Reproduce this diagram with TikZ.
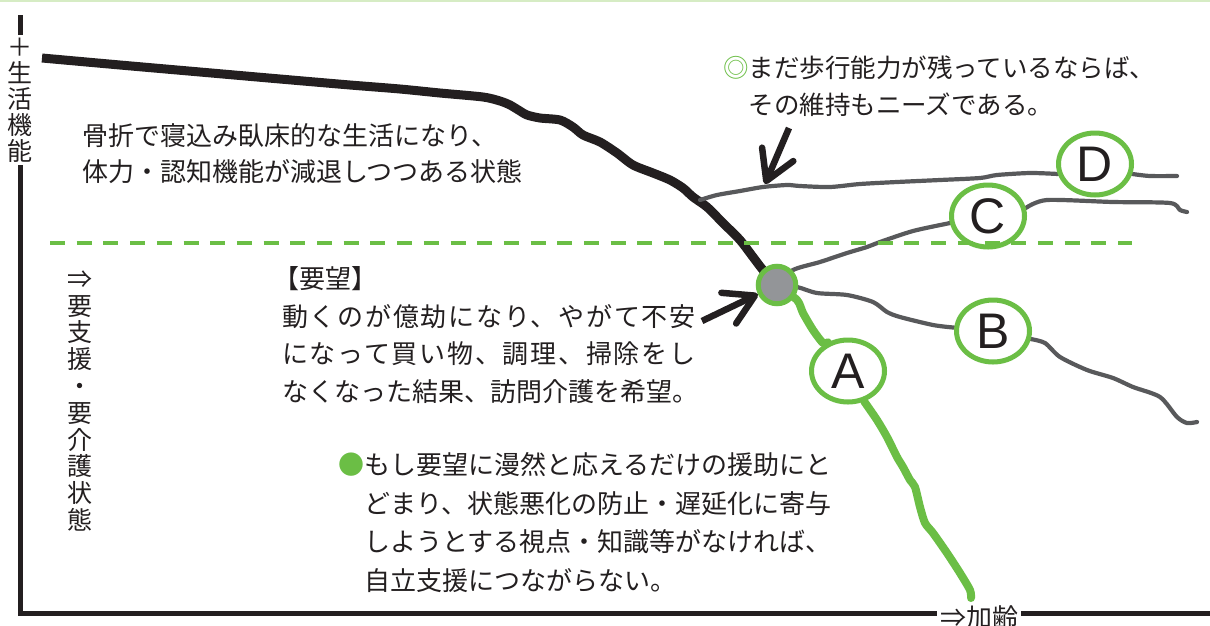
\documentclass[tikz,border=0pt]{standalone}
\usepackage{fontspec}
\setmainfont{Noto Sans CJK JP}
\newfontfamily\latsans{Liberation Sans}
\usetikzlibrary{shapes.geometric,arrows.meta}
\definecolor{grn}{HTML}{6BBE45}
\definecolor{lgrn}{HTML}{D6ECC4}
\definecolor{ink}{HTML}{231F20}
\definecolor{gline}{HTML}{58595B}
\definecolor{gfill}{HTML}{939598}
\pgfdeclarelayer{bg}
\pgfdeclarelayer{paper}
\pgfsetlayers{paper,bg,main}
\begin{document}
\begin{tikzpicture}[x=1pt,y=-1pt,
  lbl/.style={ellipse,draw=grn,line width=5pt,fill=white,minimum width=73pt,minimum height=62pt,inner sep=0pt,font=\latsans\fontsize{50}{50}\selectfont,text=ink},
  hub/.style={circle,draw=grn,line width=5pt,fill=gfill,minimum size=37.5pt,inner sep=0pt},
  txt/.style={inner sep=0pt,anchor=west,align=left,text=ink},
  vtxt/.style={inner sep=0pt,align=center,text=ink},
  axisline/.style={line width=5pt,draw=ink},
  mainline/.style={line width=9pt,draw=ink,line join=round},
  branch/.style={line width=4.2pt,draw=gline,line join=round,line cap=round},
  gpath/.style={line width=8pt,draw=grn,line join=round,line cap=round},
  pointer/.style={line width=6.5pt,draw=ink,-{Straight Barb[length=29pt,width=34pt,line width=6.5pt,round]}},
  guide/.style={line width=4.5pt,draw=grn,dash pattern=on 15pt off 11.7pt},
]
\useasboundingbox (0,0) rectangle (1210,625);
\begin{pgfonlayer}{paper}
\fill[white] (0,0) rectangle (1210,625);
\end{pgfonlayer}
% top rule
\coordinate (rl) at (0,1.2);
\coordinate (rr) at (1210,1.2);
\draw[lgrn,line width=2.5pt] (rl) -- (rr);

% axes
\coordinate (ytop) at (20,15);
\coordinate (orig) at (20,613);
\coordinate (xend) at (1212,613);
\draw[axisline] (ytop) -- (orig) -- (xend);
\node[vtxt,fill=white,inner ysep=3pt,inner xsep=2pt,font=\fontsize{25}{26}\selectfont] (ylab) at (20,100) {＋\\生\\活\\機\\能};
\node[fill=white,inner xsep=3pt,inner ysep=2pt,text=ink,font=\fontsize{26}{26}\selectfont] (xlab) at (979,618) {⇒加齢};

% nodes
\node[hub] (hub) at (777,285) {};
\node[lbl] (A) at (848,371) {A};
\node[lbl] (B) at (993,331) {B};
\node[lbl] (C) at (988,216) {C};
\node[lbl] (D) at (1095,164) {D};

\coordinate (s0) at (42,58);
\coordinate (dstart) at (700,200);
\coordinate (aend) at (971,598);
\coordinate (bend) at (1197,422);
\coordinate (cend) at (1187,212);
\coordinate (dend) at (1177,176);

\begin{pgfonlayer}{bg}
\draw[mainline] plot[smooth,tension=0.45] coordinates {(s0) (120,65) (200,72) (280,79) (350,85) (400,89) (440,93) (483,97) (500,101) (510,105) (520,111) (527,115) (540,118) (560,120) (573,127) (583,135) (600,142) (617,153) (633,165) (653,173) (670,180) (683,188) (693,197) (707,207) (723,223) (740,240) (753,257) (763,270) (hub.center)};
\draw[branch] plot[smooth,tension=0.45] coordinates {(dstart) (717,195) (740,191) (763,187) (787,185) (800,186) (830,187) (860,184) (897,182) (940,180) (980,178) (997,175) (1030,173) (D.195)};
\draw[branch] plot[smooth,tension=0.45] coordinates {(D.-15) (1150,176) (dend)};
\draw[branch] plot[smooth,tension=0.45] coordinates {(hub.center) (793,270) (820,262) (847,253) (867,247) (880,242) (913,231) (950,223) (C.190)};
\draw[branch] plot[smooth,tension=0.45] coordinates {(C.12) (1047,200) (1113,202) (1170,203) (1180,210) (cend)};
\draw[branch] plot[smooth,tension=0.45] coordinates {(hub.center) (797,287) (817,293) (847,295) (873,302) (887,312) (900,317) (933,325) (B.175)};
\draw[branch] plot[smooth,tension=0.45] coordinates {(B.-12) (1045,343) (1060,357) (1087,370) (1113,378) (1133,387) (1160,397) (1177,417) (1187,423) (bend)};
\draw[gpath] plot[smooth,tension=0.45] coordinates {(hub.center) (797,300) (803,313) (813,330) (823,343) (A.125)};
\draw[gpath] plot[smooth,tension=0.45] coordinates {(A.-62) (877,420) (887,437) (897,457) (903,467) (910,480) (915,487) (920,507) (925,523) (933,533) (947,553) (960,573) (970,590) (aend)};
\end{pgfonlayer}

% pointers
\coordinate (dtail) at (789,128);
\coordinate (dtip) at (765,184);
\draw[pointer] (dtail) -- (dtip);
\coordinate (ctail) at (702,321);
\draw[pointer] (ctail) -- (hub);

% guide line
\coordinate (gl) at (50,243);
\coordinate (gr) at (1132,243);
\draw[guide] (gl) -- (gr);

% texts
\node[txt,font=\fontsize{26}{36}\selectfont] (t1) at (82,154) {骨折で寝込み臥床的な生活になり、\\体力・認知機能が減退しつつある状態};
\node[txt,font=\fontsize{25.5}{37}\selectfont] (t2) at (723,86.5) {\textcolor{grn}{◎}まだ歩行能力が残っているならば、\\\hspace*{1em}その維持もニーズである。};
\node[txt,font=\fontsize{26}{37.5}\selectfont] (t3) at (282,335) {\hspace*{-0.35em}【要望】\\{\addfontfeature{LetterSpace=6.7}動くのが億劫になり、やがて不安}\\{\addfontfeature{LetterSpace=6.7}になって買い物、調理、掃除をし}\\なくなった結果、訪問介護を希望。};
\node[txt,font=\fontsize{26}{38.5}\selectfont] (t4) at (338,522.5) {\textcolor{grn}{●}もし要望に漫然と応えるだけの援助にと\\\hspace*{1em}どまり、状態悪化の防止・遅延化に寄与\\\hspace*{1em}しようとする視点・知識等がなければ、\\\hspace*{1em}自立支援につながらない。};
\node[vtxt,font=\fontsize{25}{26.8}\selectfont] (v2) at (80,401) {⇒\\要\\支\\援\\・\\要\\介\\護\\状\\態};
\end{tikzpicture}
\end{document}
